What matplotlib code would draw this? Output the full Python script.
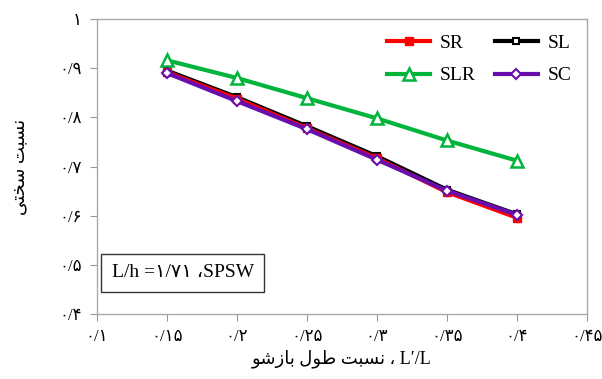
import matplotlib.pyplot as plt
import numpy as np

plt.rcParams['font.family'] = ['Liberation Serif', 'DejaVu Sans']

# ─── data ────────────────────────────────────────────────────
x = [0.15, 0.20, 0.25, 0.30, 0.35, 0.40]

sr  = [0.892, 0.838, 0.778, 0.717, 0.648, 0.596]
sl  = [0.895, 0.841, 0.782, 0.721, 0.653, 0.603]
slr = [0.916, 0.880, 0.839, 0.798, 0.753, 0.712]
sc  = [0.890, 0.833, 0.776, 0.714, 0.651, 0.602]

xticks = [0.10, 0.15, 0.20, 0.25, 0.30, 0.35, 0.40, 0.45]
xticklabels = ['۰/۱', '۰/۱۵', '۰/۲', '۰/۲۵', '۰/۳', '۰/۳۵', '۰/۴', '۰/۴۵']
yticks = [0.4, 0.5, 0.6, 0.7, 0.8, 0.9, 1.0]
yticklabels = ['۰/۴', '۰/۵', '۰/۶', '۰/۷', '۰/۸', '۰/۹', '۱']

# Persian labels written in visual order with presentation forms
ylabel = '\uFEF0\uFE98\uFEA8\uFEB3 \uFE96\uFE92\uFEB4\uFEE7'
xlabel = ('\uFEEE\uFEB7\uFEAF\uFE8E\uFE91 \uFEDD\uFEEE\uFEC3 '
          '\uFE96\uFE92\uFEB4\uFEE7 \u060C L\u2032/L')
boxtext = 'L/h =۱/۷۱ \u060CSPSW'

# ─── figure ──────────────────────────────────────────────────
fig = plt.figure(figsize=(6.02, 3.79), dpi=100)
ax = fig.add_axes([0.161, 0.171, 0.814, 0.779])

l_sl, = ax.plot(x, sl, color='black', lw=3, marker='s', ms=5,
                mfc='white', mec='black', mew=1.5, label='SL')
l_sr, = ax.plot(x, sr, color='#ff0000', lw=3, marker='s', ms=6,
                mfc='#ff0000', mec='#ff0000', label='SR')
l_slr, = ax.plot(x, slr, color='#00b43c', lw=3, marker='^', ms=8,
                 mfc='white', mec='#00b43c', mew=1.8, label='SLR')
l_sc, = ax.plot(x, sc, color='#6a0dad', lw=3, marker='D', ms=5,
                mfc='white', mec='#6a0dad', mew=1.5, label='SC')

ax.set_xlim(0.1, 0.45)
ax.set_ylim(0.4, 1.0)
ax.set_xticks(xticks)
ax.set_xticklabels(xticklabels, fontsize=12)
ax.set_yticks(yticks)
ax.set_yticklabels(yticklabels, fontsize=12)
ax.tick_params(direction='out', length=5, color='#999999', pad=6)

for s in ax.spines.values():
    s.set_color('#aaaaaa')
    s.set_linewidth(1)

ax.set_ylabel(ylabel, fontsize=13, labelpad=22)
ax.set_xlabel(xlabel, fontsize=13, labelpad=3)

ax.legend(handles=[l_sr, l_slr, l_sl, l_sc], ncol=2, loc='upper right',
          frameon=False, fontsize=14, handlelength=2.2, columnspacing=1.0,
          handletextpad=0.5, labelspacing=0.75, borderaxespad=0.4)

ax.text(0.03, 0.14, boxtext, transform=ax.transAxes, fontsize=14,
        va='center', ha='left',
        bbox=dict(boxstyle='square,pad=0.55', fc='white', ec='#333333', lw=1))

fig.savefig('out.png', dpi=100)
